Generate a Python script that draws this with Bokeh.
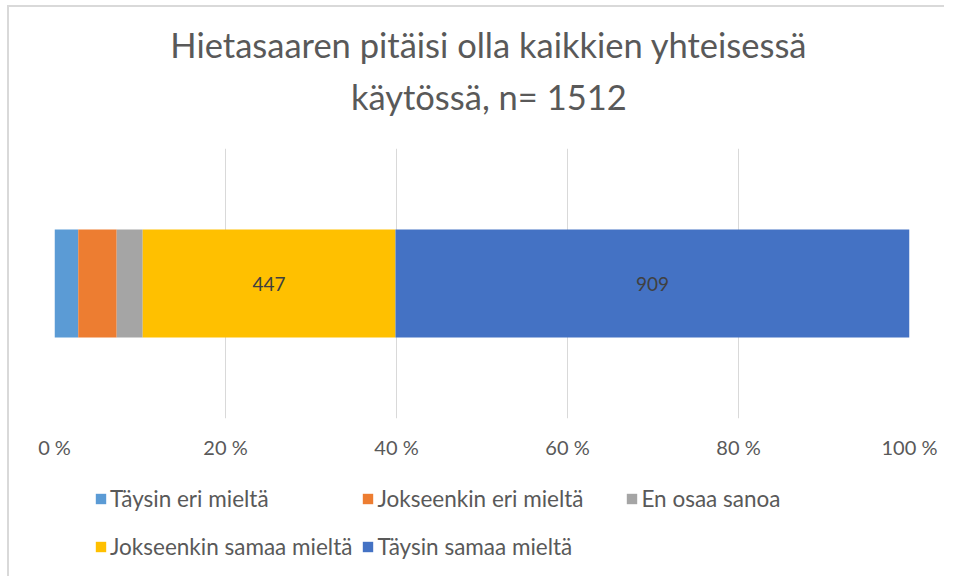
from bokeh.plotting import figure
from bokeh.models import ColumnDataSource, Legend, LegendItem, FixedTicker, Label
from bokeh.layouts import column
from bokeh.core.properties import value
from bokeh.embed import file_html
from bokeh.resources import INLINE

# ---- data ----
series = ["Täysin eri mieltä", "Jokseenkin eri mieltä", "En osaa sanoa",
          "Jokseenkin samaa mieltä", "Täysin samaa mieltä"]
counts = [42, 68, 46, 447, 909]
labelled = [False, False, False, True, True]
colors = ["#5B9BD5", "#ED7D31", "#A5A5A5", "#FFC000", "#4472C4"]
total = 1512
tick_values = [0, 20, 40, 60, 80, 100]
tick_labels = ["0 %", "20 %", "40 %", "60 %", "80 %", "100 %"]
title_lines = ["Hietasaaren pitäisi olla kaikkien yhteisessä", "käytössä, n= 1512"]

FONT = "Lato"
TXT = "#595959"
W = 935

keys = [f"s{i}" for i in range(len(series))]
pct = [c / total * 100 for c in counts]
data = {"y": [0.5]}
for k, v in zip(keys, pct):
    data[k] = [v]
src = ColumnDataSource(data)


def bare(fig):
    fig.axis.visible = False
    fig.grid.visible = False
    fig.outline_line_color = None
    return fig


# ---- title block ----
head = bare(figure(width=W, height=141, x_range=(0, 1), y_range=(0, 1),
                   output_backend="svg", toolbar_location=None,
                   min_border=0))
for txt, yy in zip(title_lines, [0.737, 0.37]):
    head.add_layout(Label(x=0.508, y=yy, text=txt, text_align="center",
                          text_baseline="middle", text_font=FONT,
                          text_font_size="34.5px", text_color=TXT))

# ---- main chart ----
p = figure(frame_width=855, frame_height=270, x_range=(0, 100), y_range=(0, 1),
           output_backend="svg", toolbar_location=None, title=None,
           min_border_left=45, min_border_right=35, min_border_top=0,
           min_border_bottom=42)

renderers = p.hbar_stack(keys, y="y", height=0.4, color=colors, source=src,
                         line_color=None)

starts = []
acc = 0.0
for v in pct:
    starts.append(acc)
    acc += v
lab_x = [s + v / 2 for s, v, l in zip(starts, pct, labelled) if l]
lab_t = [str(c) for c, l in zip(counts, labelled) if l]
p.text(x=lab_x, y=[0.5] * len(lab_x), text=lab_t, text_align="center",
       text_baseline="middle", text_font=value(FONT), text_font_size="19px",
       text_color="#404040")

p.yaxis.visible = False
p.ygrid.visible = False
p.xgrid.grid_line_color = "#D9D9D9"
p.xaxis.ticker = FixedTicker(ticks=tick_values)
p.xaxis.major_label_overrides = dict(zip(tick_values, tick_labels))
p.xaxis.axis_line_color = None
p.xaxis.major_tick_line_color = None
p.xaxis.minor_tick_line_color = None
p.xaxis.major_label_standoff = 10
p.xaxis.major_label_text_font = FONT
p.xaxis.major_label_text_font_size = "20px"
p.xaxis.major_label_text_color = TXT
p.outline_line_color = None

# ---- legend block ----
leg = bare(figure(width=W, height=115, x_range=(0, 100), y_range=(2, 3),
                  output_backend="svg", toolbar_location=None, min_border=0))
leg_r = leg.hbar_stack(keys, y="y", height=0.4, color=colors, source=src,
                       line_color=None)
items = [LegendItem(label=s, renderers=[r]) for s, r in zip(series, leg_r)]
legend = Legend(items=items, orientation="horizontal", ncols=3,
                location=(40, 10), glyph_width=13, glyph_height=13,
                label_standoff=3, spacing=9, padding=0, margin=0,
                label_text_font=FONT, label_text_font_size="22.5px",
                label_text_color=TXT, border_line_color=None,
                background_fill_alpha=0, label_height=39, label_width=239)
leg.add_layout(legend, "center")

page = column(head, p, leg, spacing=0,
              styles={"margin-left": "7px", "margin-top": "5px",
                      "border-left": "2px solid #D9D9D9",
                      "border-top": "2px solid #D9D9D9"})

open("out.html", "w").write(file_html(page, INLINE))
